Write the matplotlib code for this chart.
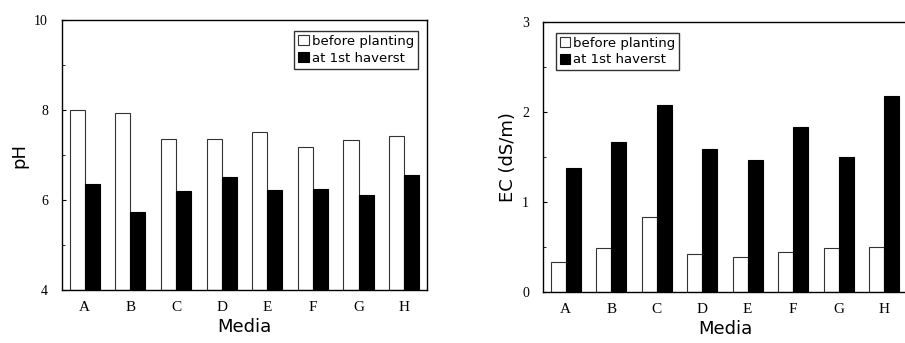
import matplotlib.pyplot as plt
import numpy as np
from matplotlib.ticker import MultipleLocator

media = ["A", "B", "C", "D", "E", "F", "G", "H"]
ph_before = [8.00, 7.93, 7.35, 7.36, 7.52, 7.18, 7.34, 7.43]
ph_after = [6.36, 5.73, 6.19, 6.51, 6.22, 6.25, 6.11, 6.56]
ec_before = [0.33, 0.49, 0.83, 0.42, 0.38, 0.44, 0.49, 0.50]
ec_after = [1.37, 1.66, 2.07, 1.59, 1.46, 1.83, 1.50, 2.17]

x = np.arange(len(media))
w = 0.33

fig = plt.figure(figsize=(9.05, 3.43), dpi=100)
ax1 = fig.add_axes([0.0685, 0.1545, 0.4033, 0.787])
ax2 = fig.add_axes([0.600, 0.1496, 0.402, 0.787])

def draw(ax, before, after, ylim, major, minor, ylabel, loc, anchor):
    base = ylim[0]
    ax.bar(x - w / 2, [v - base for v in before], w, bottom=base, color="white",
           edgecolor="#333333", linewidth=0.8, label="before planting")
    ax.bar(x + w / 2, [v - base for v in after], w, bottom=base, color="black",
           edgecolor="black", linewidth=0.8, label="at 1st haverst")
    ax.set_xlim(-0.5, 7.5)
    ax.set_ylim(*ylim)
    ax.set_xticks(x)
    ax.set_xticklabels(media, family="Liberation Serif", fontsize=11)
    ax.tick_params(axis="x", length=0, pad=8)
    ax.yaxis.set_major_locator(MultipleLocator(major))
    ax.yaxis.set_minor_locator(MultipleLocator(minor))
    ax.tick_params(axis="y", direction="in", length=3, labelsize=10, pad=10)
    ax.tick_params(axis="y", which="minor", direction="in", length=2)
    for lab in ax.get_yticklabels():
        lab.set_family("Liberation Serif")
    ax.set_xlabel("Media", fontsize=13, labelpad=3)
    ax.set_ylabel(ylabel, fontsize=13)
    for s in ax.spines.values():
        s.set_linewidth(1.0)
    leg = ax.legend(loc=loc, bbox_to_anchor=anchor, fontsize=9.5, frameon=True, fancybox=False,
                    edgecolor="black", handlelength=0.8, handleheight=0.8, handletextpad=0.2,
                    borderpad=0.3, labelspacing=0.3, borderaxespad=0)
    leg.get_frame().set_linewidth(1.0)

draw(ax1, ph_before, ph_after, (4, 10), 2, 1, "pH", "upper right", (0.975, 0.96))
draw(ax2, ec_before, ec_after, (0, 3), 1, 0.5, "EC (dS/m)", "upper left", (0.035, 0.96))
ax2.spines["right"].set_visible(False)

fig.savefig("out.png", dpi=100)
